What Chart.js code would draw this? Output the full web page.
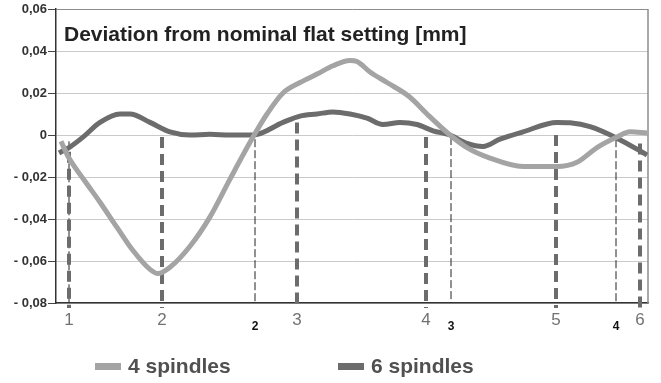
<!DOCTYPE html>
<html>
<head>
<meta charset="utf-8">
<script src="https://cdn.jsdelivr.net/npm/chart.js@4.4.1/dist/chart.umd.min.js"></script>
<style>
    html, body { margin: 0; padding: 0; background: #fff; }
    #wrap { width: 661px; height: 383px; position: relative; }
</style>
</head>
<body>
<div id="wrap"><canvas id="deviationChart"></canvas></div>
<script>
// Deviation from nominal flat setting, 4 vs 6 spindles
const FONT = "'Liberation Sans', Arial, sans-serif";
const TITLE = 'Deviation from nominal flat setting [mm]';

// position along the sheet (arbitrary units) and deviation in mm
const pos4 = [5, 13, 29, 44, 61, 77, 94, 102, 114, 134, 154, 174, 197, 211, 227, 244, 261, 277, 294, 301, 314, 331, 354, 371, 394, 411, 434, 467, 501, 521, 541, 561, 574, 591];
const dev4 = [-0.003, -0.011, -0.022, -0.032, -0.044, -0.055, -0.064, -0.066, -0.063, -0.053, -0.039, -0.021, -0.001, 0.010, 0.020, 0.025, 0.029, 0.033, 0.0355, 0.035, 0.030, 0.025, 0.018, 0.010, 0.000, -0.006, -0.011, -0.015, -0.015, -0.013, -0.006, -0.001, 0.0015, 0.001];

const pos6 = [3, 13, 27, 44, 64, 74, 94, 114, 134, 154, 174, 197, 227, 244, 261, 277, 294, 311, 327, 344, 361, 377, 394, 411, 427, 444, 467, 501, 514, 534, 561, 591];
const dev6 = [-0.0086, -0.006, -0.001, 0.006, 0.010, 0.010, 0.006, 0.0015, 0.000, 0.0003, 0.000, 0.000, 0.006, 0.009, 0.010, 0.011, 0.010, 0.008, 0.005, 0.006, 0.005, 0.002, 0.000, -0.004, -0.0055, -0.002, 0.0015, 0.006, 0.0058, 0.004, -0.0015, -0.0095];

// spindle positions (dashed markers) and their labels
const spindle6Pos = [13, 106, 241, 370, 500, 584];
const spindle6Top = [-0.008, -0.001, 0.006, -0.001, 0, -0.004];
const spindle6Labels = ['1', '2', '3', '4', '5', '6'];
const spindle4Pos = [13, 199, 395, 560];
const spindle4Top = [-0.003, -0.002, -0.001, -0.002];
const spindle4Labels = ['1', '2', '3', '4'];

const yTicks = [-0.08, -0.06, -0.04, -0.02, 0, 0.02, 0.04, 0.06];

const LIGHT = '#a4a4a4';
const DARK = '#6c6c6c';

function fmtY(v) {
    if (Math.abs(v) < 1e-9) return '0';
    let s = Math.abs(v).toFixed(2).replace('.', ',');
    return v < 0 ? '- ' + s : s;
}

function xLabel(v) {
    let i = spindle6Pos.indexOf(v);
    if (i >= 0) return spindle6Labels[i];
    i = spindle4Pos.indexOf(v);
    if (i >= 0) return ['', spindle4Labels[i]];
    return '';
}

function is6(ctx) {
    return ctx.tick && spindle6Pos.includes(ctx.tick.value);
}

let datasets = [
    {
        label: '4 spindles',
        data: pos4.map((x, i) => ({ x: x, y: dev4[i] })),
        borderColor: LIGHT,
        backgroundColor: LIGHT,
        borderWidth: 5,
        pointRadius: 0,
        cubicInterpolationMode: 'monotone',
        order: 1
    },
    {
        label: '6 spindles',
        data: pos6.map((x, i) => ({ x: x, y: dev6[i] })),
        borderColor: DARK,
        backgroundColor: DARK,
        borderWidth: 5,
        pointRadius: 0,
        cubicInterpolationMode: 'monotone',
        order: 2
    }
];

spindle6Pos.forEach((x, i) => {
    datasets.push({
        label: 'marker6',
        data: [{ x: x, y: spindle6Top[i] }, { x: x, y: -0.0824 }],
        borderColor: DARK,
        borderWidth: 4,
        borderDash: [11, 6],
        pointRadius: 0,
        clip: false,
        order: 10
    });
});
spindle4Pos.forEach((x, i) => {
    datasets.push({
        label: 'marker4',
        data: [{ x: x, y: spindle4Top[i] }, { x: x, y: -0.08 }],
        borderColor: '#222',
        borderWidth: 1,
        borderDash: [8, 3],
        pointRadius: 0,
        clip: false,
        order: 11
    });
});

// title inside the plot, right border and the legend
const decorations = {
    id: 'decorations',
    beforeDatasetsDraw(chart) {
        const { ctx, chartArea } = chart;
        ctx.save();
        ctx.strokeStyle = '#8c8c8c';
        ctx.lineWidth = 1.5;
        ctx.beginPath();
        ctx.moveTo(chartArea.right, chartArea.top);
        ctx.lineTo(chartArea.right, chartArea.bottom);
        ctx.stroke();
        ctx.restore();
    },
    afterDraw(chart) {
        const { ctx, chartArea } = chart;
        ctx.save();
        ctx.fillStyle = '#222';
        ctx.font = 'bold 21px ' + FONT;
        ctx.textBaseline = 'alphabetic';
        ctx.fillText(TITLE, chartArea.left + 8, 41);

        const items = [
            { ds: chart.data.datasets[0], x: 95 },
            { ds: chart.data.datasets[1], x: 338 }
        ];
        ctx.font = 'bold 21px ' + FONT;
        items.forEach(it => {
            ctx.fillStyle = it.ds.borderColor;
            ctx.fillRect(it.x, 363, 26, 7);
            ctx.fillStyle = '#505050';
            ctx.fillText(it.ds.label, it.x + 33, 373);
        });
        ctx.restore();
    }
};

let ctx = document.getElementById('deviationChart').getContext('2d');
let chart = new Chart(ctx, {
    type: 'line',
    data: { datasets: datasets },
    options: {
        responsive: true,
        maintainAspectRatio: false,
        animation: false,
        layout: { padding: { top: 9, right: 13, left: 0, bottom: 0 } },
        plugins: {
            legend: { display: false },
            tooltip: { enabled: false }
        },
        scales: {
            x: {
                type: 'linear',
                min: 0,
                max: 592,
                afterBuildTicks: axis => {
                    axis.ticks = spindle6Pos.concat(spindle4Pos.slice(1)).sort((a, b) => a - b).map(v => ({ value: v }));
                },
                afterFit: scale => { scale.height = 80; },
                grid: { display: false, drawTicks: false },
                border: { color: '#333', width: 1.5 },
                ticks: {
                    padding: 7,
                    autoSkip: false,
                    maxRotation: 0,
                    callback: v => xLabel(v),
                    color: c => is6(c) ? '#727272' : '#111',
                    font: c => is6(c)
                        ? { family: FONT, size: 17, lineHeight: 1.2 }
                        : { family: FONT, size: 12, weight: 'bold', lineHeight: 0.95 }
                }
            },
            y: {
                min: -0.08,
                max: 0.06,
                afterBuildTicks: axis => {
                    axis.ticks = yTicks.map(v => ({ value: v }));
                },
                afterFit: scale => { scale.width = 56; },
                grid: {
                    color: c => (c.tick && Math.abs(c.tick.value - 0.06) < 1e-9) ? '#8c8c8c' : '#cacaca',
                    lineWidth: 1,
                    tickLength: 8,
                    tickColor: '#444'
                },
                border: { color: '#333', width: 1.5 },
                ticks: {
                    padding: 1,
                    color: '#333',
                    font: { family: FONT, size: 13, weight: 'bold' },
                    callback: v => fmtY(v)
                }
            }
        }
    },
    plugins: [decorations]
});
</script>
</body>
</html>
